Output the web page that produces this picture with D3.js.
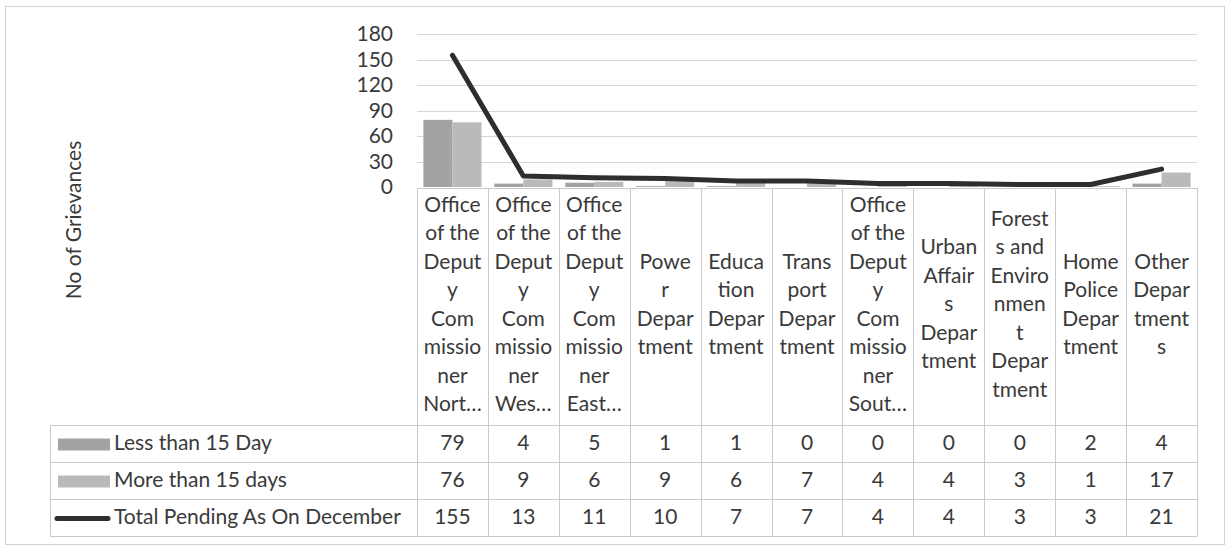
<!DOCTYPE html>
<html>
<head>
<meta charset="utf-8">
<script src="https://cdn.jsdelivr.net/npm/d3@7"></script>
<style>
  html, body { margin: 0; padding: 0; background: #fff; }
  svg { display: block; font-family: Lato, "Open Sans", sans-serif; }
</style>
</head>
<body>
<svg id="chart" width="1226" height="548"></svg>
<script>
// categories, as the wrapped labels shown under the plot
const categories = [
  "Office of the Deputy Commissioner North",
  "Office of the Deputy Commissioner West",
  "Office of the Deputy Commissioner East",
  "Power Department",
  "Education Department",
  "Transport Department",
  "Office of the Deputy Commissioner South",
  "Urban Affairs Department",
  "Forests and Environment Department",
  "Home Police Department",
  "Other Departments"
];
const categoryLines = [
  ["Office", "of the", "Deput", "y", "Com", "missio", "ner", "Nort…"],
  ["Office", "of the", "Deput", "y", "Com", "missio", "ner", "Wes…"],
  ["Office", "of the", "Deput", "y", "Com", "missio", "ner", "East…"],
  ["Powe", "r", "Depar", "tment"],
  ["Educa", "tion", "Depar", "tment"],
  ["Trans", "port", "Depar", "tment"],
  ["Office", "of the", "Deput", "y", "Com", "missio", "ner", "Sout…"],
  ["Urban", "Affair", "s", "Depar", "tment"],
  ["Forest", "s and", "Enviro", "nmen", "t", "Depar", "tment"],
  ["Home", "Police", "Depar", "tment"],
  ["Other", "Depar", "tment", "s"]
];
const lessThan15 = [79, 4, 5, 1, 1, 0, 0, 0, 0, 2, 4];
const moreThan15 = [76, 9, 6, 9, 6, 7, 4, 4, 3, 1, 17];
const totalPending = [155, 13, 11, 10, 7, 7, 4, 4, 3, 3, 21];
const seriesNames = ["Less than 15 Day", "More than 15 days", "Total Pending As On December"];
const yTicks = [0, 30, 60, 90, 120, 150, 180];

const svg = d3.select("#chart");
const textColor = "#3a3a3a";
const gridColor = "#d6d6d6";
const tableColor = "#c9c9c9";
const fontSize = 21;

// layout
const plotLeft = 417, plotRight = 1197, plotTop = 34, plotBase = 187;
const tableLeft = 50, headerBottom = 425, rowH = 37;

const x = d3.scaleBand().domain(categories).range([plotLeft, plotRight]).padding(0);
const sub = d3.scaleBand().domain(["less", "more"])
  .range([0, x.bandwidth()]).paddingInner(0).paddingOuter(0.22);
const y = d3.scaleLinear().domain([0, 180]).range([plotBase, plotTop]);

// outer border
svg.append("rect")
  .attr("x", 5.5).attr("y", 6.5).attr("width", 1219).attr("height", 538)
  .attr("fill", "none").attr("stroke", "#d2d2d2");

// gridlines
svg.append("g").selectAll("line")
  .data(yTicks.filter(d => d > 0))
  .join("line")
  .attr("x1", plotLeft).attr("x2", plotRight)
  .attr("y1", d => Math.round(y(d)) + 0.5).attr("y2", d => Math.round(y(d)) + 0.5)
  .attr("stroke", gridColor);

// y axis
const yAxis = svg.append("g")
  .attr("transform", `translate(${plotLeft},0)`)
  .call(d3.axisLeft(y).tickValues(yTicks).tickSize(0).tickPadding(24));
yAxis.select(".domain").remove();
yAxis.selectAll("text")
  .attr("font-size", fontSize)
  .attr("font-family", "Lato, sans-serif")
  .attr("fill", textColor);

svg.append("text")
  .attr("transform", `translate(76,220) rotate(-90)`)
  .attr("text-anchor", "middle")
  .attr("dominant-baseline", "middle")
  .attr("font-size", fontSize)
  .attr("fill", textColor)
  .text("No of Grievances");

// bars
const barColors = { less: "#a3a3a3", more: "#bababa" };
const bars = svg.append("g");
categories.forEach((c, i) => {
  [["less", lessThan15[i]], ["more", moreThan15[i]]].forEach(([k, v]) => {
    bars.append("rect")
      .attr("x", x(c) + sub(k))
      .attr("y", y(v))
      .attr("width", sub.bandwidth())
      .attr("height", plotBase - y(v))
      .attr("fill", barColors[k]);
  });
});

// total line
const line = d3.line()
  .x((d, i) => x(categories[i]) + x.bandwidth() / 2)
  .y(d => y(d));
svg.append("path")
  .datum(totalPending)
  .attr("d", line)
  .attr("fill", "none")
  .attr("stroke", "#2e2e2e")
  .attr("stroke-width", 5)
  .attr("stroke-linejoin", "round")
  .attr("stroke-linecap", "round");

// data table
const table = svg.append("g").attr("stroke", tableColor).attr("stroke-width", 1);
table.append("line")
  .attr("x1", plotLeft).attr("x2", plotRight).attr("y1", plotBase + 1.5).attr("y2", plotBase + 1.5);
d3.range(4).forEach(r => {
  const yy = headerBottom + r * rowH + 0.5;
  table.append("line").attr("x1", tableLeft).attr("x2", plotRight).attr("y1", yy).attr("y2", yy);
});
categories.concat([null]).forEach((c, i) => {
  const xx = Math.round(plotLeft + i * x.bandwidth()) + 0.5;
  table.append("line").attr("x1", xx).attr("x2", xx)
    .attr("y1", plotBase + 1).attr("y2", headerBottom + 3 * rowH);
});
table.append("line")
  .attr("x1", tableLeft + 0.5).attr("x2", tableLeft + 0.5)
  .attr("y1", headerBottom).attr("y2", headerBottom + 3 * rowH);

// category labels
const lineH = 28.5;
const headerMid = (plotBase + headerBottom) / 2;
categories.forEach((c, i) => {
  const lines = categoryLines[i];
  const t = svg.append("text")
    .attr("text-anchor", "middle")
    .attr("font-size", fontSize)
    .attr("fill", textColor);
  lines.forEach((s, j) => {
    t.append("tspan")
      .attr("x", x(c) + x.bandwidth() / 2)
      .attr("y", headerMid + (j - (lines.length - 1) / 2) * lineH)
      .attr("dominant-baseline", "middle")
      .text(s);
  });
});

// table rows
const rows = [lessThan15, moreThan15, totalPending];
rows.forEach((vals, r) => {
  const cy = headerBottom + r * rowH + rowH / 2 + 1;
  vals.forEach((v, i) => {
    svg.append("text")
      .attr("x", x(categories[i]) + x.bandwidth() / 2)
      .attr("y", cy)
      .attr("text-anchor", "middle")
      .attr("dominant-baseline", "middle")
      .attr("font-size", fontSize)
      .attr("fill", textColor)
      .text(v);
  });
  // legend key
  if (r < 2) {
    svg.append("rect")
      .attr("x", 58).attr("y", cy - 6).attr("width", 52).attr("height", 12)
      .attr("fill", r === 0 ? barColors.less : barColors.more);
  } else {
    svg.append("line")
      .attr("x1", 57).attr("x2", 108).attr("y1", cy).attr("y2", cy)
      .attr("stroke", "#2e2e2e").attr("stroke-width", 5).attr("stroke-linecap", "round");
  }
  svg.append("text")
    .attr("x", 114)
    .attr("y", cy)
    .attr("dominant-baseline", "middle")
    .attr("font-size", fontSize)
    .attr("fill", textColor)
    .text(seriesNames[r]);
});
</script>
</body>
</html>
